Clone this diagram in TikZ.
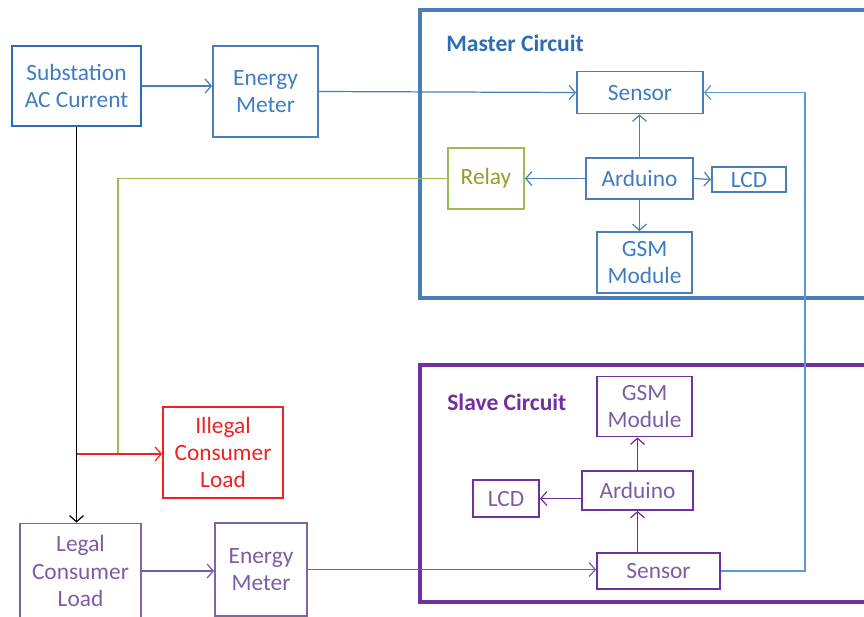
\documentclass[tikz,border=0pt]{standalone}
\usepackage{fontspec}
\setmainfont{Carlito}
\usetikzlibrary{arrows.meta,positioning,calc}
\definecolor{mblue}{HTML}{4A7EBB}
\definecolor{sblue}{HTML}{2E6DB4}
\definecolor{tblue}{HTML}{3F7BC4}
\definecolor{lblue}{HTML}{5B9BD5}
\definecolor{rgreen}{HTML}{9BBB59}
\definecolor{rtext}{HTML}{9A9A2E}
\definecolor{ired}{HTML}{EE2222}
\definecolor{spurple}{HTML}{7030A0}
\definecolor{lpurple}{HTML}{8064A2}
\definecolor{tpurple}{HTML}{7B5CA8}

\begin{document}
\begin{tikzpicture}[x=0.02cm,y=-0.02cm,
  blk/.style={draw, line width=1.1pt, align=center, inner sep=1pt, font=\fontsize{13.3}{15.5}\selectfont},
  frame/.style={line width=2.6pt},
  ttl/.style={anchor=west, inner sep=0pt, font=\fontsize{13.4}{14}\selectfont\bfseries},
  link/.style={->, line width=0.7pt},
  >={Straight Barb[length=3.5pt,width=8pt]}]
\useasboundingbox (0,0) rectangle (864,616);
% circuit frames
\draw[frame, mblue] (864,10) -- (420,10) -- (420,298) -- (864,298);
\draw[frame, spurple] (864,365) -- (420,365) -- (420,602) -- (864,602);
\node[ttl, text=sblue] (mttl) at (446,43) {Master Circuit};
\node[ttl, text=spurple] (sttl) at (447,402) {Slave Circuit};
% supply side
\node[blk, draw=sblue, text=tblue, line width=1.5pt, minimum width=2.58cm, minimum height=1.6cm] (sub) at (76.5,86) {Substation\\AC Current};
\node[blk, draw=mblue, text=tblue, minimum width=2.1cm, minimum height=1.82cm] (emA) at (265.5,91.5) {Energy\\Meter};
\node[blk, draw=ired, text=ired, minimum width=2.4cm, minimum height=1.82cm] (ill) at (223,452.5) {Illegal\\Consumer\\Load};
\node[blk, draw=lpurple, text=tpurple, minimum width=2.42cm, minimum height=1.9cm] (leg) at (80.5,571) {Legal\\Consumer\\Load};
\node[blk, draw=lpurple, text=tpurple, minimum width=1.84cm, minimum height=1.86cm] (emB) at (261,569.5) {Energy\\Meter};
% master circuit
\foreach \n/\x/\y/\w/\h/\t in {
  senA/640/92.5/2.52/0.84/{Sensor},
  ardA/639.5/178.5/2.14/0.82/{Arduino},
  lcdA/749/179.5/1.48/0.5/{LCD},
  gsmA/644.5/262.5/1.9/1.22/{GSM\\Module}}{
  \node[blk, draw=mblue, text=tblue, minimum width=\w cm, minimum height=\h cm] (\n) at (\x,\y) {\t};
}
\node[blk, draw=rgreen, text=rtext, minimum width=1.52cm, minimum height=1.22cm] (rel) at (486,178.5) {Relay};
% slave circuit
\foreach \n/\x/\y/\w/\h/\t in {
  gsmB/644.5/406.5/1.9/1.2/{GSM\\Module},
  ardB/637.5/490.5/2.22/0.78/{Arduino},
  lcdB/506/498.5/1.32/0.74/{LCD},
  senB/658.5/571/2.46/0.72/{Sensor}}{
  \node[blk, draw=spurple, text=tpurple, minimum width=\w cm, minimum height=\h cm] (\n) at (\x,\y) {\t};
}
\coordinate (tap) at (76.5,454);
\coordinate (gl) at (118,454);
\coordinate (rr) at (805,0);
% connectors
\draw[link, mblue] (sub.east) -- (sub.east -| emA.west);
\draw[link, mblue] (emA.east) -- (senA.west);
\draw[link, mblue] (ardA.north) -- (ardA.north |- senA.south);
\draw[link, mblue] (ardA.west) -- (rel.east);
\draw[link, mblue] (ardA.east) -- (lcdA.west);
\draw[link, mblue] (ardA.south) -- (ardA.south |- gsmA.north);
\draw[line width=0.7pt, rgreen] (rel.west) -| (gl);
\draw[link, black] (sub.south) -- (sub.south |- leg.north);
\draw[link, ired] (tap) -- (tap -| ill.west);
\draw[link, tpurple] (leg.east) -- (leg.east -| emB.west);
\draw[link, tpurple] (emB.east) -- (emB.east -| senB.west);
\draw[link, spurple] (senB.north -| ardB) -- (ardB.south);
\draw[link, spurple] (ardB.north) -- (ardB.north |- gsmB.south);
\draw[link, spurple] (ardB.west |- lcdB) -- (lcdB.east);
\draw[link, lblue] (senB.east) -| (rr |- senA.east) -- (senA.east);
\end{tikzpicture}
\end{document}
